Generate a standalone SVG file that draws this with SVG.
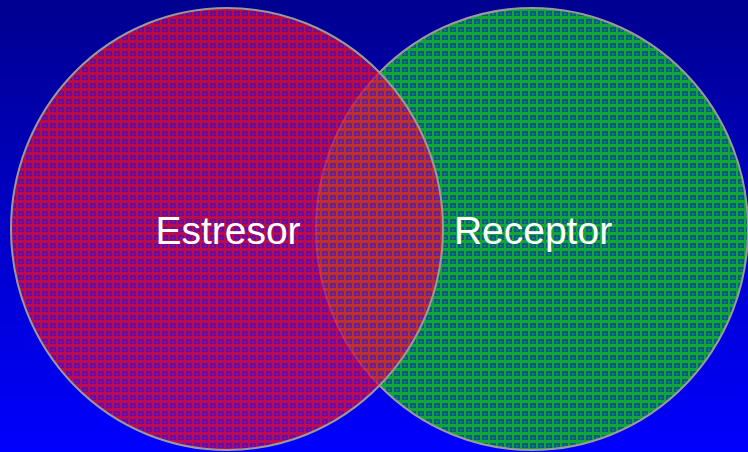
<svg xmlns="http://www.w3.org/2000/svg" width="748" height="452" viewBox="0 0 748 452">
<defs>
<linearGradient id="bg" x1="0" y1="0" x2="0" y2="1">
<stop offset="0" stop-color="#000090"/>
<stop offset="1" stop-color="#0000ff"/>
</linearGradient>
<pattern id="pr" width="8" height="8" patternUnits="userSpaceOnUse">
<rect width="8" height="8" fill="#8010a0"/>
<rect x="0" y="0" width="8" height="3" fill="#f01020"/>
<rect x="0" y="0" width="2" height="8" fill="#f01020"/>
<rect x="4" y="5" width="2" height="2" fill="#d01050"/>
</pattern>
<pattern id="pg" width="8" height="8" patternUnits="userSpaceOnUse">
<rect width="8" height="8" fill="#0a5a8a"/>
<rect x="0" y="0" width="8" height="3" fill="#10a830"/>
<rect x="0" y="0" width="2" height="8" fill="#10a830"/>
<rect x="4" y="5" width="2" height="2" fill="#108a50"/>
</pattern>
<style>
.c{stroke:#9a9a9a;stroke-width:2}
.t{font-family:"Liberation Sans",Arial,sans-serif;font-size:39px;fill:#ffffff;text-anchor:middle}
</style>
</defs>
<rect width="748" height="452" fill="url(#bg)"/>
<g id="receptor">
<ellipse class="c" cx="532" cy="229" rx="216" ry="221" fill="url(#pg)"/>
</g>
<g id="estresor">
<ellipse class="c" cx="227" cy="229" rx="216" ry="221" fill="url(#pr)" fill-opacity="0.78"/>
</g>
<g id="connectors"/>
<text class="t" x="228" y="244">Estresor</text>
<text class="t" x="533" y="244">Receptor</text>
</svg>
